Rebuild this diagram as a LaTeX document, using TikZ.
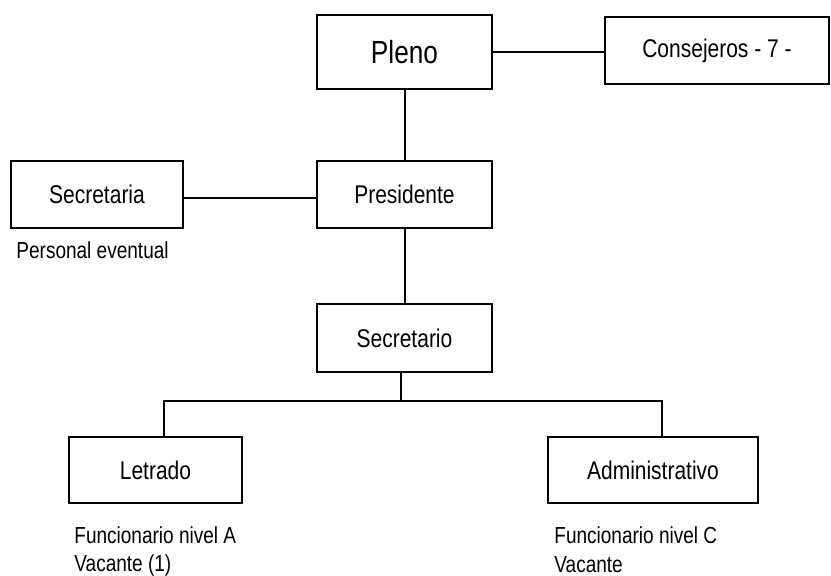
\documentclass[tikz,border=0pt]{standalone}
\usepackage{fontspec}
\setmainfont{Liberation Sans}[FakeStretch=0.82]
\usepackage{tikz}
\usetikzlibrary{positioning, calc}
\tikzstyle{box} = [draw, line width=1pt, inner sep=0pt, minimum height=33.5pt, font=\fontsize{12.8}{15}\selectfont]
\tikzstyle{note} = [anchor=west, inner sep=0pt, font=\fontsize{11.6}{14}\selectfont]
\tikzstyle{link} = [line width=1pt]

\begin{document}
\begin{tikzpicture}[x=0.5pt, y=-0.5pt]
\useasboundingbox (0,0) rectangle (831,576);

% Top level
\node[box, minimum width=87.5pt, minimum height=37pt, font=\fontsize{16}{19}\selectfont] (pleno) at (404.5,52) {Pleno};
\node[box, minimum width=112pt] (consejeros) at (717,50.5) {Consejeros - 7 -};

% Presidencia
\node[box, minimum width=86pt] (secretaria) at (97,194.5) {Secretaria};
\node[box, minimum width=87.5pt] (presidente) at (404.5,194.5) {Presidente};
\node[note] (eventual) at (16,250) {Personal eventual};

% Secretario and staff
\node[box, minimum width=87.5pt, minimum height=34pt] (secretario) at (404.5,338) {Secretario};
\node[box, minimum width=86.5pt, minimum height=33pt] (letrado) at (155.5,470) {Letrado};
\node[box, minimum width=105pt, minimum height=33pt] (administrativo) at (653,470) {Administrativo};

\node[note] (funcA) at (74,535) {Funcionario nivel A};
\node[note] (vacA) at (74,565) {Vacante (1)};
\node[note] (funcC) at (554,535) {Funcionario nivel C};
\node[note] (vacC) at (554,565) {Vacante};

% Connectors
\coordinate (bus) at (401,401);
\draw[link] (pleno.east) -- (pleno.east -| consejeros.west);
\draw[link] (pleno.south) -- (presidente.north);
\draw[link] ([yshift=-2pt]secretaria.east) -- ([yshift=-2pt]secretaria.east -| presidente.west);
\draw[link] (presidente.south) -- (secretario.north);
\draw[link] (secretario.south -| bus) -- (bus);
\draw[link] ([xshift=4.25pt]letrado.north) |- (bus) -| ([xshift=4.5pt]administrativo.north);

\end{tikzpicture}
\end{document}
